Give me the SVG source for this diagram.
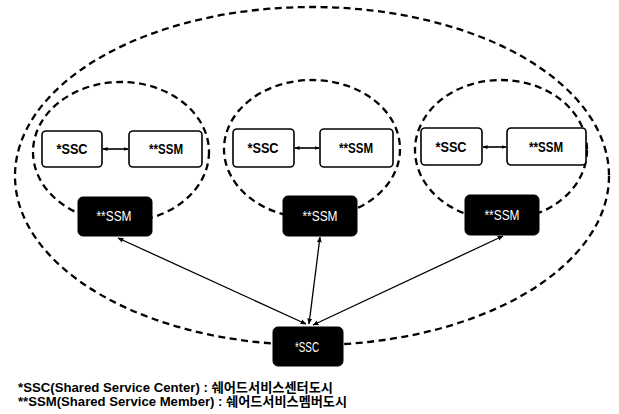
<svg xmlns="http://www.w3.org/2000/svg" width="619" height="414" viewBox="0 0 619 414">
<defs>
<style>
.dash{fill:none;stroke:#000;stroke-width:2.3;stroke-dasharray:7 4.5}
.wbox{fill:#fff;stroke:#000;stroke-width:1.6}
.bbox{fill:#000;stroke:#000;stroke-width:1}
.wt{font-family:"Liberation Sans","Noto Sans CJK KR",sans-serif;font-weight:bold;font-size:14px;fill:#000;text-anchor:middle}
.bt{font-family:"Liberation Sans","Noto Sans CJK KR",sans-serif;font-size:14px;fill:#fff;text-anchor:middle}
.lg{font-family:"Liberation Sans","Noto Sans CJK KR",sans-serif;font-weight:bold;font-size:13px;fill:#000}
.con{fill:none;stroke:#000;stroke-width:1.3}
.sh{fill:none;stroke:#000;stroke-width:1.6}
</style>
<marker id="ah" viewBox="0 0 10 10" refX="9" refY="5" markerWidth="5" markerHeight="5" orient="auto-start-reverse" markerUnits="userSpaceOnUse">
<path d="M0,1 L10,5 L0,9 z" fill="#000"/>
</marker>
<marker id="ah2" viewBox="0 0 10 10" refX="9" refY="5" markerWidth="6" markerHeight="6" orient="auto-start-reverse" markerUnits="userSpaceOnUse">
<path d="M0,1 L10,5 L0,9 z" fill="#000"/>
</marker>
</defs>
<rect width="619" height="414" fill="#fff"/>
<g id="boundaries">
<ellipse class="dash" cx="312" cy="176" rx="297" ry="169"/>
<ellipse class="dash" cx="121" cy="152" rx="88" ry="70"/>
<ellipse class="dash" cx="312" cy="149" rx="88" ry="69"/>
<ellipse class="dash" cx="501" cy="150" rx="86" ry="70"/>
</g>
<g id="connectors">
<line class="con" x1="306" y1="324" x2="118" y2="238" marker-start="url(#ah2)" marker-end="url(#ah2)"/>
<line class="con" x1="309" y1="324" x2="320" y2="237" marker-start="url(#ah2)" marker-end="url(#ah2)"/>
<line class="con" x1="313" y1="325" x2="503" y2="236" marker-start="url(#ah2)" marker-end="url(#ah2)"/>
<line class="sh" x1="103" y1="149" x2="128" y2="149" marker-start="url(#ah)" marker-end="url(#ah)"/>
<line class="sh" x1="295" y1="148" x2="319" y2="148" marker-start="url(#ah)" marker-end="url(#ah)"/>
<line class="sh" x1="483" y1="147" x2="506" y2="147" marker-start="url(#ah)" marker-end="url(#ah)"/>
</g>
<g id="ssc-left"><rect class="wbox" x="42" y="131" width="60" height="36" rx="4"/><text class="wt" x="72" y="154" textLength="31" lengthAdjust="spacingAndGlyphs">*SSC</text></g>
<g id="ssm-left"><rect class="wbox" x="129" y="131" width="73" height="36" rx="4"/><text class="wt" x="166" y="154" textLength="34" lengthAdjust="spacingAndGlyphs">**SSM</text></g>
<g id="ssc-mid"><rect class="wbox" x="233" y="129" width="61" height="38" rx="4"/><text class="wt" x="263" y="153" textLength="31" lengthAdjust="spacingAndGlyphs">*SSC</text></g>
<g id="ssm-mid"><rect class="wbox" x="320" y="129" width="73" height="38" rx="4"/><text class="wt" x="356" y="153" textLength="34" lengthAdjust="spacingAndGlyphs">**SSM</text></g>
<g id="ssc-right"><rect class="wbox" x="421" y="128" width="61" height="37" rx="4"/><text class="wt" x="451" y="152" textLength="31" lengthAdjust="spacingAndGlyphs">*SSC</text></g>
<g id="ssm-right"><rect class="wbox" x="507" y="128" width="79" height="37" rx="4"/><text class="wt" x="546" y="152" textLength="34" lengthAdjust="spacingAndGlyphs">**SSM</text></g>
<g id="ssm-black-left"><rect class="bbox" x="78" y="197" width="74" height="39" rx="5"/><text class="bt" x="114" y="221" textLength="35" lengthAdjust="spacingAndGlyphs">**SSM</text></g>
<g id="ssm-black-mid"><rect class="bbox" x="283" y="196" width="74" height="40" rx="5"/><text class="bt" x="320" y="221" textLength="35" lengthAdjust="spacingAndGlyphs">**SSM</text></g>
<g id="ssm-black-right"><rect class="bbox" x="465" y="195" width="74" height="40" rx="5"/><text class="bt" x="502" y="220" textLength="35" lengthAdjust="spacingAndGlyphs">**SSM</text></g>
<g id="ssc-black-bottom"><rect class="bbox" x="273" y="327" width="70" height="39" rx="5"/><text class="bt" x="307" y="352" font-size="13" textLength="24" lengthAdjust="spacingAndGlyphs">*SSC</text></g>
<g id="legend">
<text class="lg" x="18" y="392" textLength="315" lengthAdjust="spacingAndGlyphs">*SSC(Shared Service Center) : 쉐어드서비스센터도시</text>
<text class="lg" x="18" y="406" textLength="329" lengthAdjust="spacingAndGlyphs">**SSM(Shared Service Member) : 쉐어드서비스멤버도시</text>
</g>
</svg>
